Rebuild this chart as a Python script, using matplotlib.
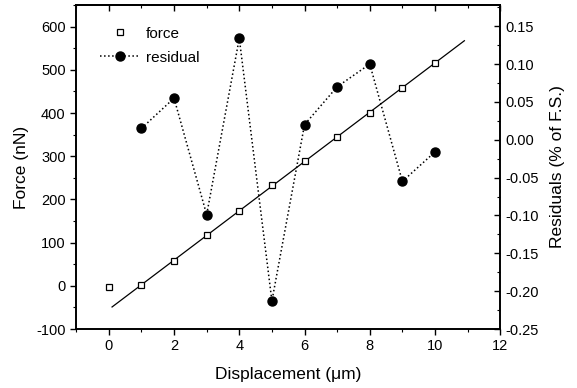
import numpy as np
import matplotlib
matplotlib.use('Agg')
from matplotlib import pyplot as plt
from matplotlib.ticker import MultipleLocator

plt.rcParams['font.family'] = ['Liberation Sans', 'DejaVu Sans']
plt.rcParams['axes.unicode_minus'] = False

# data
disp = [0, 1, 2, 3, 4, 5, 6, 7, 8, 9, 10]
force = [-2, 2, 58, 117, 174, 233, 288, 345, 400, 459, 516]
res_disp = [1, 2, 3, 4, 5, 6, 7, 8, 9, 10]
residual = [0.015, 0.055, -0.099, 0.134, -0.213, 0.020, 0.070, 0.100, -0.055, -0.016]
fit_range = [0.1, 10.9]
res_ticks = [-0.25, -0.20, -0.15, -0.10, -0.05, 0.00, 0.05, 0.10, 0.15]

fig = plt.figure(figsize=(5.77, 3.88), dpi=100)
ax = fig.add_axes([0.132, 0.152, 0.735, 0.835])
ax2 = ax.twinx()

# linear fit through the points 1..10
p = np.polyfit(disp[1:], force[1:], 1)
xf = np.array(fit_range)
ax.plot(xf, np.polyval(p, xf), color='black', lw=0.9)
h1, = ax.plot(disp, force, ls='none', marker='s', ms=5, mfc='white',
              mec='black', mew=0.9, label='force')
h2, = ax2.plot(res_disp, residual, ls=':', color='black', lw=1.1,
               marker='o', ms=6.5, mfc='black', mec='black', label='residual')

ax.set_xlim(-1, 12)
ax.set_ylim(-100, 650)
ax2.set_ylim(-0.25, 0.178)

ax.set_xticks(np.arange(0, 13, 2))
ax.set_yticks(np.arange(-100, 601, 100))
ax2.set_yticks(res_ticks)
ax2.set_yticklabels(['%.2f' % v for v in res_ticks])
ax.xaxis.set_minor_locator(MultipleLocator(1))
ax.yaxis.set_minor_locator(MultipleLocator(50))
ax2.yaxis.set_minor_locator(MultipleLocator(0.025))

ax.tick_params(axis='x', which='major', direction='out', length=4, width=1, labelsize=10.5)
ax.tick_params(axis='x', which='minor', direction='out', length=2, width=0.8)
ax.tick_params(axis='y', which='major', direction='out', length=4, width=1, labelsize=10.5)
ax.tick_params(axis='y', which='minor', direction='out', length=2, width=0.8)
ax2.tick_params(axis='y', which='major', direction='in', length=4, width=1, labelsize=10.5)
ax2.tick_params(axis='y', which='minor', direction='in', length=2, width=0.8)

# top ticks point inward
top = ax.secondary_xaxis('top')
top.set_xticks(np.arange(0, 13, 2))
top.xaxis.set_minor_locator(MultipleLocator(1))
top.tick_params(which='major', direction='in', length=4, width=1, labeltop=False)
top.tick_params(which='minor', direction='in', length=2, width=0.8)

for a in (ax, ax2, top):
    for s in a.spines.values():
        s.set_linewidth(1.2)

ax.set_xlabel('Displacement (\u03bcm)', fontsize=12.5, labelpad=10)
ax.set_ylabel('Force (nN)', fontsize=12.5, labelpad=5)
ax2.set_ylabel('Residuals (% of F.S.)', fontsize=12.5, labelpad=8)

ax.legend([h1, h2], ['force', 'residual'], loc='upper left',
          bbox_to_anchor=(0.057, 0.933), frameon=False, fontsize=11,
          handlelength=2.6, handletextpad=0.4, labelspacing=0.65,
          borderaxespad=0, borderpad=0)

fig.savefig('out.png', dpi=100)
